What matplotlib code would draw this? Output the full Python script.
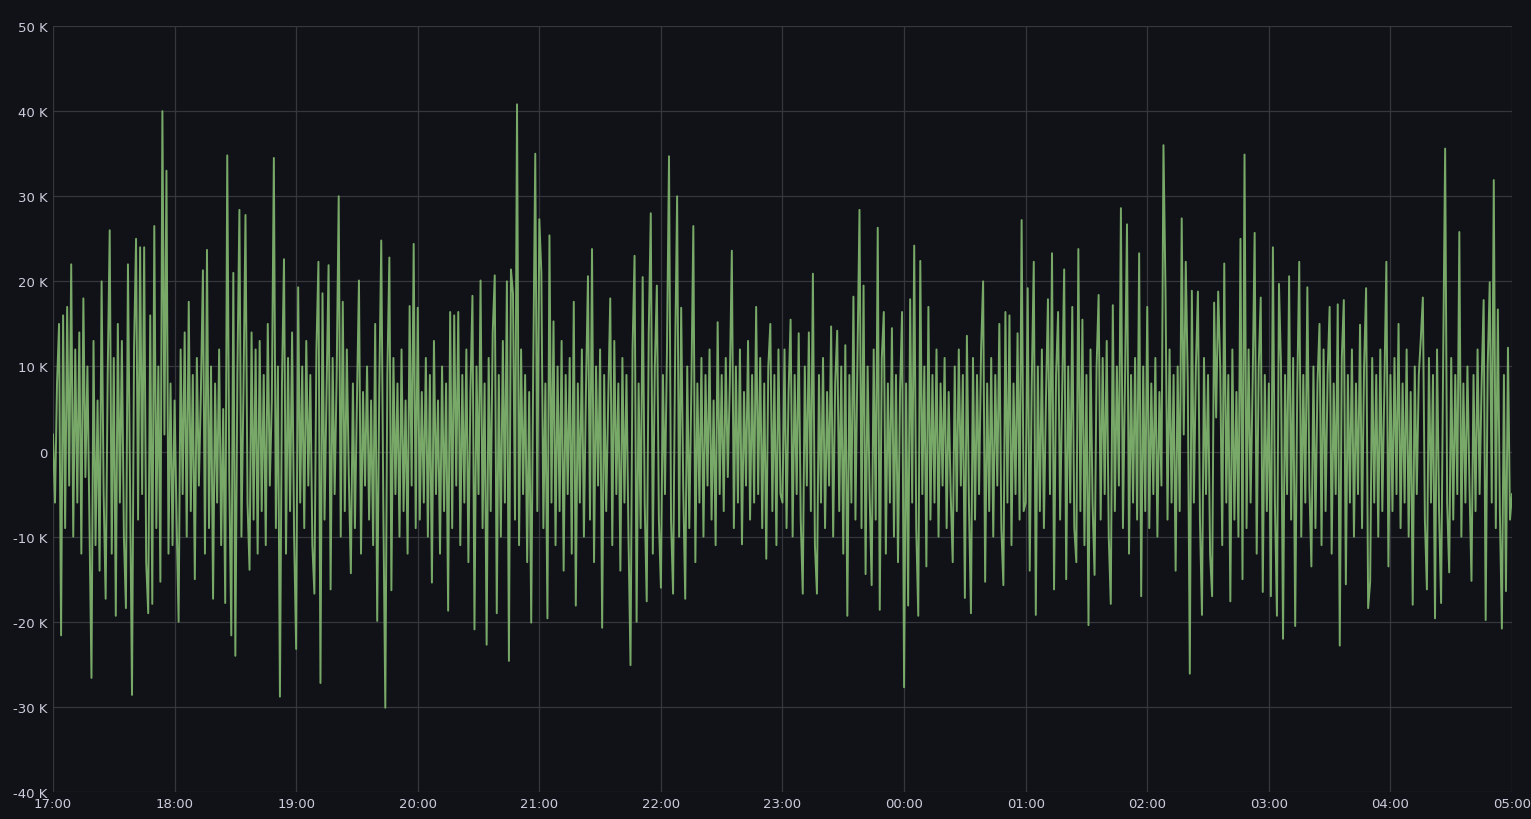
import matplotlib
matplotlib.use("Agg")
import matplotlib.pyplot as plt
import numpy as np

# values in K, one sample per minute from 17:00 to 05:00
h17 = [2, -6, 8, 15, -21.6, 16, -9, 17, -4, 22, -10, 12, -6, 14, -12, 18, -3, 10, -8, -26.6,
       13, -11, 6, -14, 20, -5, -17.3, 9, 26, -12, 11, -19.3, 15, -6, 13, -10, -18.4, 22, -4, -28.6,
       12, 25, -8, 24, -5, 24, -13, -19, 16, -17.9, 26.5, -9, 10, -15.3, 40, 2, 33, -12, 8, -11]
h18 = [6, -8, -20, 12, -5, 14, -10, 17.6, -7, 9, -15, 11, -4, 7, 21.3, -12, 23.7, -9, 10, -17.3,
       8, -6, 12, -11, 5, -17.8, 34.8, -3, -21.6, 21, -24, 9, 28.4, -10, 7, 27.8, -6, -13.9, 14, -8,
       12, -12, 13, -7, 9, -11, 15, -4, 6, 34.5, -9, 10, -28.8, 8, 22.6, -12, 11, -7, 14, -10]
h19 = [-23.2, 19.3, -6, 10, -9, 13, -4, 9, -11, -16.7, 12, 22.3, -27.2, 18.6, -8, 7, 21.9, -16.2, 11, -5,
       9, 30, -10, 17.6, -7, 12, -3, -14.3, 8, -9, 6, 20.1, -12, 7, -4, 10, -8, 6, -11, 15,
       -19.9, 7, 24.8, -6, -30.1, 9, 22.8, -16.3, 11, -5, 8, -10, 12, -7, 6, -12, 17.1, -4, 24.4, -9]
h20 = [16.9, -8, 7, -6, 11, -10, 9, -15.4, 13, -5, 6, -12, 10, -7, 8, -18.7, 16.4, -9, 16, -4,
       16.4, -11, 9, -6, 12, -13, 7, 18.3, -20.9, 10, -5, 20.1, -9, 8, -22.7, 11, -7, 14, 20.7, -19,
       9, -10, 13, -6, 20, -24.6, 21.4, 18.6, -8, 40.8, -11, 12, -5, 9, -13, 7, -20.1, 10, 35, -7]
h21 = [27.3, 21, -9, 8, -19.6, 25.4, -6, 15.3, -11, 10, -7, 13, -14, 9, -5, 11, -12, 17.6, -18.1, 8,
       -6, 12, -10, 7, 20.6, -8, 23.8, -13, 10, -4, 12, -20.7, 9, -7, 6, 18, -11, 13, -5, 8,
       -14, 11, -6, 9, -10, -25.1, 12, 23, -20, 8, -9, 20.5, -6, -17.6, 14, 28, -12, 10, 19.5, -8]
h22 = [-16, 9, -5, 12, 34.7, -8, -16.7, 11, 30, -10, 16.9, -4, -17.3, 10, -9, 7, 26.5, -13, 8, -6,
       11, -10, 9, -4, 12, -8, 6, -11, 15.2, -5, 9, -7, 11, -3, 8, 23.6, -9, 10, -6, 12,
       -10.9, 7, -4, 13, -8, 9, -6, 17, -5, 11, -9, 8, -12.6, 10, 15, -7, 9, -11, 12, -5]
h23 = [-6, 12, -9, 7, 15.5, -10, 9, -5, 13.9, -8, -16.7, 10, -4, 14, -7, 20.9, -11, -16.7, 9, -6,
       11, -9, 7, -4, 14.7, -10, 8, 14.2, -7, 10, -12, 12.5, -19.3, 9, -6, 18.2, -8, 11, 28.4, -9,
       19.5, -14.4, 10, -5, -15.7, 12, -8, 26.3, -18.6, 11, 16.4, -12, 8, -6, 14.5, -10, 9, -13, 7, 16.4]
h00 = [-27.7, 8, -18.1, 17.9, -6, 24.2, -9, -19.3, 22.4, -5, 10, -13.5, 17, -8, 9, -6, 12, -10, 8, -4,
       11, -9, 7, -5, -13, 10, -7, 12, -4, 9, -17.2, 13.6, -6, -19, 11, -8, 9, -5, 12, 20,
       -15.3, 8, -7, 11, -10, 9, -4, 15, -9, -15.7, 16.4, -6, 16, -11, 8, -5, 13.9, -8, 27.2, -7]
h01 = [-6, 19.2, -14, 8, 22.3, -19.2, 10, -7, 12, -9, 6, 17.9, -5, 23.3, -16.2, 9, 16.4, -8, 7, 21.4,
       -15, 10, -6, 17, -9, -13, 23.8, -7, 15.5, -11, 9, -20.4, 12, -6, -14.5, 10, 18.4, -8, 11, -5,
       13, -10, -17.9, 17.2, -7, 10, -4, 28.6, -9, 8, 26.7, -12, 9, -6, 11, -8, 23.3, -17, 10, -7]
h02 = [17, -9, 8, -5, 11, -10, 7, -4, 36, 18.9, -8, 12, -6, 9, -14, 10, -7, 27.4, 2, 22.3,
       8, -26.1, 18.9, -6, 10, 18.8, -8, -19.2, 11, -5, 9, -12, -17, 17.5, 4, 18.8, 10, -11, 22.1, -6,
       9, -17.6, 12, -8, 7, -10, 25, -15, 34.9, -9, 12, -6, 8, 25.7, -12, 10, 18.1, -16.5, 9, -7]
h03 = [8, -17, 24, -6, -19.3, 19.7, 10, -22, 9, -5, 20.6, -8, 11, -20.5, 7, 22.3, -10, 9, -6, 19.3,
       -4, -13.5, 10, -9, 8, 15, -11, 12, -7, 9, 17, -12, 8, -5, 17.3, -22.8, 11, 17.8, -15.6, 9,
       -6, 12, -10, 8, -5, 14.9, -9, 10, 19.2, -18.4, -15.3, 11, -6, 9, -10, 12, -7, 8, 22.3, -13.5]
h04 = [9, -7, 11, -5, 15, -9, 8, -6, 12, -10, 7, -18, 10, -5, 9, 13.3, 18.1, -8, -16.2, 11,
       -6, 9, -19.6, 12, -7, -17.8, 10, 35.6, -6, -14.2, 11, -8, 9, -5, 25.8, -10, 8, -6, 10, -4,
       -15.2, 9, -7, 12, -5, 8, 17.8, -19.8, 10, 19.9, -6, 31.9, -9, 16.7, -7, -20.8, 9, -16.4, 12.2, -8, -5]

values = np.array(h17 + h18 + h19 + h20 + h21 + h22 + h23 + h00 + h01 + h02 + h03 + h04)
minutes = np.arange(len(values))

hour_labels = ["17:00", "18:00", "19:00", "20:00", "21:00", "22:00", "23:00",
               "00:00", "01:00", "02:00", "03:00", "04:00", "05:00"]
y_ticks = [-40, -30, -20, -10, 0, 10, 20, 30, 40, 50]
y_labels = ["-40 K", "-30 K", "-20 K", "-10 K", "0", "10 K", "20 K", "30 K", "40 K", "50 K"]

bg = "#111217"
fig = plt.figure(figsize=(15.31, 8.2), dpi=100, facecolor=bg)
ax = fig.add_axes([0.0346, 0.033, 0.953, 0.934])
ax.set_facecolor(bg)

ax.plot(minutes, values, color="#7eb26d", linewidth=1.4, alpha=0.95)

ax.set_xlim(0, 720)
ax.set_ylim(-40, 50)
ax.set_xticks(np.arange(0, 721, 60))
ax.set_xticklabels(hour_labels)
ax.set_yticks(y_ticks)
ax.set_yticklabels(y_labels)

ax.grid(True, color="#36373d", linewidth=0.9)
ax.set_axisbelow(True)
for s in ax.spines.values():
    s.set_visible(False)
ax.tick_params(colors="#ccccdc", length=0, labelsize=9.5, pad=4)
for lbl in ax.get_xticklabels() + ax.get_yticklabels():
    lbl.set_color("#ccccdc")

fig.savefig("out.png", dpi=100, facecolor=bg)
